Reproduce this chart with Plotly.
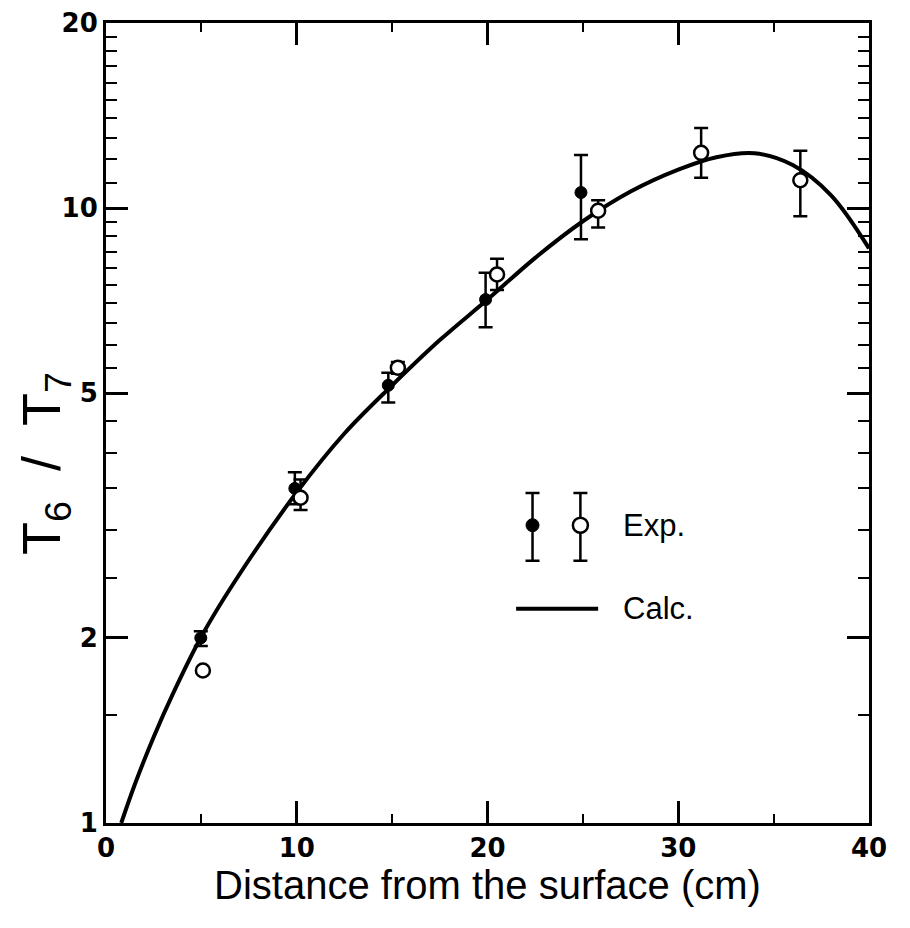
import numpy as np
import plotly.graph_objects as go

# ---- data ----
filled_x = [4.97, 9.9, 14.8, 19.9, 24.9]
filled_y = [2.0, 3.5, 5.15, 7.1, 10.6]
filled_hi = [2.05, 3.72, 5.4, 7.85, 12.2]
filled_lo = [1.94, 3.3, 4.83, 6.4, 8.9]

open_x = [5.08, 10.2, 15.3, 20.5, 25.8, 31.2, 36.4]
open_y = [1.77, 3.38, 5.5, 7.8, 9.9, 12.3, 11.1]
open_hi = [1.77, 3.62, 5.62, 8.27, 10.3, 13.5, 12.4]
open_lo = [1.77, 3.23, 5.38, 7.36, 9.3, 11.2, 9.7]

calc_x = [0.8, 1.5, 2.5, 3.5, 5, 6.75, 10, 12.5, 15, 17.5, 20, 22.5, 25, 27.5, 30, 32, 34, 36, 38, 40]
calc_y = [1.0, 1.153, 1.38, 1.62, 2.01, 2.47, 3.45, 4.3, 5.15, 6.1, 7.1, 8.3, 9.52, 10.64, 11.55, 12.1, 12.28, 11.75, 10.5, 8.6]

x_ticks = [0, 10, 20, 30, 40]
y_ticks = [1, 2, 5, 10, 20]
y_tick_labels = ["1", "2", "5", "10", "20"]
y_minor = [1.5, 2.5, 3, 3.5, 4, 4.5, 5.5, 6, 6.5, 7, 7.5, 8, 8.5, 9, 9.5,
           11, 12, 13, 14, 15, 16, 17, 18, 19]
x_minor = [5, 15, 25, 35]

# legend glyph data
leg_filled = (22.36, 3.05, 3.44, 2.67)
leg_open = (24.87, 3.05, 3.44, 2.67)
leg_line_x = [21.5, 25.8]
leg_line_y = [2.23, 2.23]
leg_text_x = 27.0
leg_exp_y = 3.05
leg_calc_y = 2.23

def err(y, hi, lo):
    return dict(type="data", symmetric=False,
                array=[h - v for h, v in zip(hi, y)],
                arrayminus=[v - l for v, l in zip(y, lo)],
                color="black", thickness=2.5, width=7)

fig = go.Figure()

fig.add_trace(go.Scatter(x=calc_x, y=calc_y, mode="lines",
                         line=dict(color="black", width=4, shape="spline", smoothing=1.0),
                         showlegend=False, cliponaxis=True))

fig.add_trace(go.Scatter(x=filled_x, y=filled_y, mode="markers",
                         marker=dict(color="black", size=12, line=dict(color="black", width=1)),
                         error_y=err(filled_y, filled_hi, filled_lo), showlegend=False))

fig.add_trace(go.Scatter(x=open_x, y=open_y, mode="markers",
                         marker=dict(color="white", size=14, line=dict(color="black", width=2.5)),
                         error_y=err(open_y, open_hi, open_lo), showlegend=False))

# legend glyphs
fig.add_trace(go.Scatter(x=[leg_filled[0]], y=[leg_filled[1]], mode="markers",
                         marker=dict(color="black", size=13, line=dict(color="black", width=1)),
                         error_y=err([leg_filled[1]], [leg_filled[2]], [leg_filled[3]]),
                         showlegend=False))
fig.add_trace(go.Scatter(x=[leg_open[0]], y=[leg_open[1]], mode="markers",
                         marker=dict(color="white", size=15, line=dict(color="black", width=2.5)),
                         error_y=err([leg_open[1]], [leg_open[2]], [leg_open[3]]),
                         showlegend=False))
fig.add_trace(go.Scatter(x=leg_line_x, y=leg_line_y, mode="lines",
                         line=dict(color="black", width=4), showlegend=False))

fig.add_annotation(x=leg_text_x, y=np.log10(leg_exp_y), xref="x", yref="y",
                   text="Exp.", showarrow=False, xanchor="left", yanchor="middle",
                   font=dict(family="Liberation Sans", size=31, color="black"))
fig.add_annotation(x=leg_text_x, y=np.log10(leg_calc_y), xref="x", yref="y",
                   text="Calc.", showarrow=False, xanchor="left", yanchor="middle",
                   font=dict(family="Liberation Sans", size=31, color="black"))

# y-axis title (placed as annotation to match its offset in the original)
fig.add_annotation(x=-0.08, y=0.45, xref="paper", yref="paper",
                   text="T<sub>6</sub>\u00a0\u00a0/\u00a0\u00a0T<sub>7</sub>",
                   textangle=-90, showarrow=False, xanchor="center", yanchor="middle",
                   font=dict(family="Liberation Sans", size=54, color="black"))

tickfont = dict(family="DejaVu Sans", size=26, color="black", weight="bold")

fig.update_xaxes(range=[0, 40], tickmode="array", tickvals=x_ticks,
                 ticks="inside", ticklen=22, tickwidth=2.5, tickcolor="black",
                 showline=True, linewidth=3, linecolor="black", mirror="ticks",
                 showgrid=False, zeroline=False, tickfont=tickfont, automargin=False,
                 ticklabeloverflow="allow",
                 minor=dict(tickmode="array", tickvals=x_minor, ticks="inside",
                            ticklen=9, tickwidth=2, tickcolor="black", showgrid=False),
                 title=dict(text="Distance from the surface (cm)",
                            font=dict(family="Liberation Sans", size=40, color="black"),
                            standoff=0))

fig.update_yaxes(type="log", range=[0, np.log10(20)], tickmode="array",
                 tickvals=y_ticks, ticktext=y_tick_labels,
                 ticks="inside", ticklen=22, tickwidth=2.5, tickcolor="black",
                 showline=True, linewidth=3, linecolor="black", mirror="ticks",
                 showgrid=False, zeroline=False, tickfont=tickfont, automargin=False,
                 ticklabeloverflow="allow",
                 minor=dict(tickmode="array", tickvals=y_minor, ticks="inside",
                            ticklen=11, tickwidth=2, tickcolor="black", showgrid=False))

fig.update_layout(width=910, height=928, plot_bgcolor="white", paper_bgcolor="white",
                  margin=dict(l=98, r=49, t=15, b=113), showlegend=False)

fig.write_html("out.html")
